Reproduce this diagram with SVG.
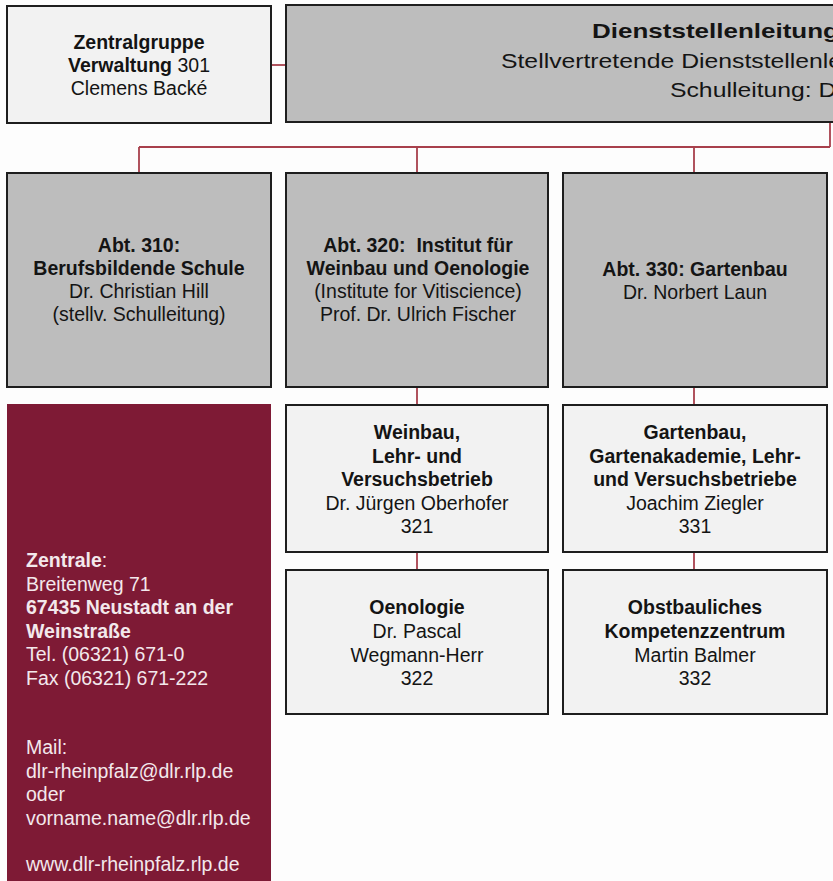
<svg xmlns="http://www.w3.org/2000/svg" width="833" height="881" viewBox="0 0 833 881">
<style>
.dark{fill:#bdbdbd;stroke:#1e1e1e;stroke-width:2}
.light{fill:#f2f2f2;stroke:#1e1e1e;stroke-width:2}
.t{font-family:"Liberation Sans",Arial,sans-serif;font-size:19.5px;fill:#141414;text-anchor:middle}
.b{font-weight:bold}
.w{font-family:"Liberation Sans",Arial,sans-serif;font-size:19.5px;fill:#f3e8ec}
.top{font-family:"Liberation Sans",Arial,sans-serif;fill:#141414}
.c{fill:none;stroke:#a8404c;stroke-width:1.8}
</style>
<rect width="833" height="881" fill="#fdfdfd"/>
<g id="connectors">
<line class="c" x1="271" y1="65" x2="286" y2="65"/>
<line class="c" x1="830" y1="122" x2="830" y2="147"/>
<line class="c" x1="139" y1="147" x2="830" y2="147"/>
<line class="c" x1="139" y1="147" x2="139" y2="173"/>
<line class="c" x1="417" y1="147" x2="417" y2="173"/>
<line class="c" x1="694" y1="147" x2="694" y2="173"/>
<line class="c" x1="417" y1="387" x2="417" y2="405"/>
<line class="c" x1="417" y1="552" x2="417" y2="570"/>
<line class="c" x1="694" y1="387" x2="694" y2="405"/>
<line class="c" x1="694" y1="552" x2="694" y2="570"/>
</g>
<g id="zentralgruppe">
<rect class="light" x="7" y="6" width="264" height="117"/>
<text class="t" x="139" y="49"><tspan class="b">Zentralgruppe</tspan></text>
<text class="t" x="139" y="72"><tspan class="b">Verwaltung</tspan> 301</text>
<text class="t" x="139" y="95">Clemens Backé</text>
</g>
<g id="dienststellenleitung">
<rect class="dark" x="286" y="5" width="560" height="117"/>
<text class="top b" font-size="20" transform="translate(592 38) scale(1.3 1)">Dienststellenleitung</text>
<text class="top" font-size="19.5" transform="translate(501 68) scale(1.27 1)">Stellvertretende Dienststellenle</text>
<text class="top" font-size="19.5" transform="translate(670 97) scale(1.27 1)">Schulleitung: Dr</text>
</g>
<g id="abt310">
<rect class="dark" x="7" y="173" width="264" height="214"/>
<text class="t b" x="139" y="252">Abt. 310:</text>
<text class="t b" x="139" y="275">Berufsbildende Schule</text>
<text class="t" x="139" y="298">Dr. Christian Hill</text>
<text class="t" x="139" y="321">(stellv. Schulleitung)</text>
</g>
<g id="abt320">
<rect class="dark" x="286" y="173" width="262" height="214"/>
<text class="t b" x="418" y="252">Abt. 320:&#160; Institut für</text>
<text class="t b" x="418" y="275">Weinbau und Oenologie</text>
<text class="t" x="418" y="298">(Institute for Vitiscience)</text>
<text class="t" x="418" y="321">Prof. Dr. Ulrich Fischer</text>
</g>
<g id="abt330">
<rect class="dark" x="563" y="173" width="264" height="214"/>
<text class="t b" x="695" y="276">Abt. 330: Gartenbau</text>
<text class="t" x="695" y="299">Dr. Norbert Laun</text>
</g>
<g id="n321">
<rect class="light" x="286" y="405" width="262" height="147"/>
<text class="t b" x="417" y="439">Weinbau,</text>
<text class="t b" x="417" y="462.5">Lehr- und</text>
<text class="t b" x="417" y="486">Versuchsbetrieb</text>
<text class="t" x="417" y="509.5">Dr. Jürgen Oberhofer</text>
<text class="t" x="417" y="533">321</text>
</g>
<g id="n322">
<rect class="light" x="286" y="570" width="262" height="144"/>
<text class="t b" x="417" y="614">Oenologie</text>
<text class="t" x="417" y="638">Dr. Pascal</text>
<text class="t" x="417" y="662">Wegmann-Herr</text>
<text class="t" x="417" y="685">322</text>
</g>
<g id="n331">
<rect class="light" x="563" y="405" width="264" height="147"/>
<text class="t b" x="695" y="439">Gartenbau,</text>
<text class="t b" x="695" y="462.5">Gartenakademie, Lehr-</text>
<text class="t b" x="695" y="486">und Versuchsbetriebe</text>
<text class="t" x="695" y="509.5">Joachim Ziegler</text>
<text class="t" x="695" y="533">331</text>
</g>
<g id="n332">
<rect class="light" x="563" y="570" width="264" height="144"/>
<text class="t b" x="695" y="614">Obstbauliches</text>
<text class="t b" x="695" y="638">Kompetenzzentrum</text>
<text class="t" x="695" y="662">Martin Balmer</text>
<text class="t" x="695" y="685">332</text>
</g>
<g id="zentrale">
<rect x="7" y="404" width="264" height="477" fill="#7e1a35"/>
<text class="w" x="26" y="567"><tspan font-weight="bold">Zentrale</tspan>:</text>
<text class="w" x="26" y="590.5">Breitenweg 71</text>
<text class="w" x="26" y="614" font-weight="bold">67435 Neustadt an der</text>
<text class="w" x="26" y="637.5" font-weight="bold">Weinstraße</text>
<text class="w" x="26" y="661">Tel. (06321) 671-0</text>
<text class="w" x="26" y="684.5">Fax (06321) 671-222</text>
<text class="w" x="26" y="754">Mail:</text>
<text class="w" x="26" y="777.5">dlr-rheinpfalz@dlr.rlp.de</text>
<text class="w" x="26" y="801">oder</text>
<text class="w" x="26" y="824.5">vorname.name@dlr.rlp.de</text>
<text class="w" x="26" y="871">www.dlr-rheinpfalz.rlp.de</text>
</g>
</svg>
